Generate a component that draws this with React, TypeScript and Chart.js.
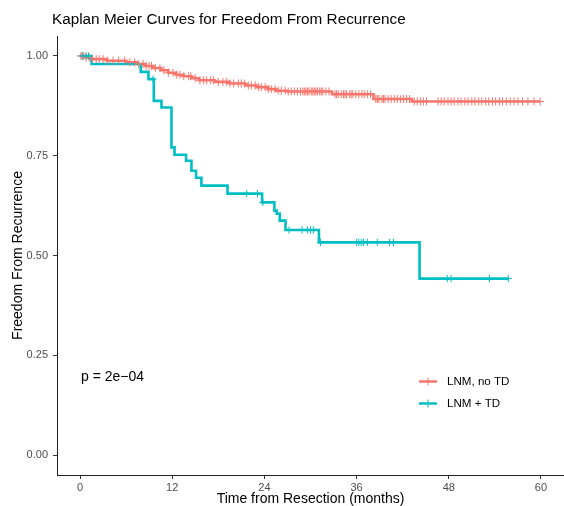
import React, { useEffect, useRef } from "react";
import { Chart, registerables } from "chart.js";

Chart.register(...registerables);

// Kaplan–Meier step tables: [time in months, survival after the event]
const noTdSteps: [number, number][] = [
  [0, 1.0],
  [0.6, 0.996],
  [1.5, 0.992],
  [3.5, 0.988],
  [6.0, 0.984],
  [7.5, 0.98],
  [8.5, 0.975],
  [9.5, 0.97],
  [10.5, 0.964],
  [11.5, 0.958],
  [12.5, 0.953],
  [13.5, 0.949],
  [14.5, 0.944],
  [15.5, 0.939],
  [17.5, 0.935],
  [19.5, 0.931],
  [21.5, 0.926],
  [23.0, 0.922],
  [24.5, 0.917],
  [25.5, 0.913],
  [27.0, 0.911],
  [32.8, 0.904],
  [38.2, 0.892],
  [43.2, 0.886],
];
const noTdEnd = 59.9;

const tdSteps: [number, number][] = [
  [0, 1.0],
  [1.5, 0.98],
  [7.9, 0.96],
  [8.9, 0.942],
  [9.6, 0.8875],
  [10.6, 0.871],
  [11.9, 0.771],
  [12.3, 0.7525],
  [13.8, 0.7375],
  [14.5, 0.7125],
  [15.1, 0.695],
  [15.8, 0.675],
  [19.2, 0.655],
  [23.7, 0.633],
  [25.3, 0.6125],
  [25.6, 0.605],
  [26.0, 0.5875],
  [26.75, 0.564],
  [31.1, 0.533],
  [44.2, 0.442],
];
const tdEnd = 55.75;

// Censoring times (months)
const noTdCensored = [
  0.1, 0.3, 0.5, 0.8, 1.2, 1.6, 2.1, 2.5, 3.0, 3.6, 4.3, 5.0, 5.8, 6.5, 7.1, 7.6,
  8.2, 8.6, 9.0, 9.3, 9.8, 10.4, 10.9, 11.5, 12.1, 12.6,
  13.0, 13.5, 14.1, 14.4, 15.0, 15.6, 16.1, 16.5, 17.0, 17.4, 18.0, 18.6, 19.1, 19.5, 20.0, 20.6,
  21.0, 21.4, 21.9, 22.3, 22.8, 23.2, 23.6, 24.1, 24.5, 24.9, 25.4, 25.8, 26.2, 26.7, 27.1, 27.5, 27.9, 28.3, 28.7,
  29.0, 29.2, 29.4, 29.6, 29.8, 30.1, 30.3, 30.5, 30.7, 30.9, 31.2, 31.4, 31.6, 32.0, 32.4,
  33.2, 33.4, 33.6, 34.0, 34.3, 34.5, 34.7, 35.1, 35.3, 35.5, 35.9, 36.3, 36.7, 37.0, 37.4, 37.8,
  38.5, 38.7, 38.9, 39.3, 39.5, 39.7, 40.1, 40.5, 40.9, 41.3, 41.7, 42.1, 42.5, 42.9,
  43.5, 43.9, 44.3, 44.7, 45.1, 46.6, 47.0, 47.4, 47.9, 48.3, 48.7, 49.2, 49.6, 50.1,
  50.5, 51.0, 51.4, 51.9, 52.3, 52.8, 53.2, 53.7, 54.1, 54.6, 55.0, 55.5, 56.0, 56.5,
  57.0, 57.6, 58.3, 59.1, 59.9,
];

const tdCensored = [
  0.3, 0.8, 1.1, 9.5, 21.7, 23.1, 23.8, 27.2, 28.9, 29.6, 30.0, 30.4, 31.3,
  36.0, 36.3, 36.6, 36.9, 37.4, 38.7, 40.3, 40.8, 47.8, 48.3, 53.3, 55.75,
];

const xTicks = [0, 12, 24, 36, 48, 60];
const yTicks = [0, 0.25, 0.5, 0.75, 1.0];

const groupLabels = ["LNM, no TD", "LNM + TD"];
const groupColors = ["#F8766D", "#00BFC4"];
const titleText = "Kaplan Meier Curves for Freedom From Recurrence";
const xTitle = "Time from Resection (months)";
const yTitle = "Freedom From Recurrence";
const pValueText = "p = 2e\u221204";

const FONT = "'Liberation Sans', Arial, Helvetica, sans-serif";

function survivalAt(steps: [number, number][], t: number): number {
  let s = 1;
  for (const [time, value] of steps) {
    if (time <= t) s = value;
  }
  return s;
}

function curvePoints(steps: [number, number][], end: number) {
  const pts = steps.map(([x, y]) => ({ x, y }));
  pts.push({ x: end, y: steps[steps.length - 1][1] });
  return pts;
}

function censorPoints(steps: [number, number][], times: number[]) {
  return times.map((t) => ({ x: t, y: survivalAt(steps, t) }));
}

const annotations = {
  id: "kmAnnotations",
  afterDraw(chart: Chart) {
    const { ctx, chartArea } = chart;
    ctx.save();
    ctx.fillStyle = "#000";
    ctx.textBaseline = "middle";

    // main title
    ctx.font = `15.3px ${FONT}`;
    ctx.textAlign = "left";
    ctx.fillText(titleText, 52, 20);

    // axis titles
    ctx.font = `14px ${FONT}`;
    ctx.textAlign = "center";
    ctx.fillText(xTitle, (chartArea.left + chartArea.right) / 2, 499);
    ctx.save();
    ctx.translate(18, (chartArea.top + chartArea.bottom) / 2);
    ctx.rotate(-Math.PI / 2);
    ctx.fillText(yTitle, 0, 0);
    ctx.restore();

    // p-value
    ctx.font = `14px ${FONT}`;
    ctx.textAlign = "left";
    ctx.fillText(pValueText, 81, 377);

    // legend
    const legendX = 419;
    const legendY = [381.5, 403.5];
    ctx.font = `11.6px ${FONT}`;
    groupLabels.forEach((label, i) => {
      const y = legendY[i];
      ctx.strokeStyle = groupColors[i];
      ctx.lineWidth = 2.5;
      ctx.beginPath();
      ctx.moveTo(legendX, y);
      ctx.lineTo(legendX + 18, y);
      ctx.stroke();
      ctx.lineWidth = 1;
      ctx.beginPath();
      ctx.moveTo(legendX + 9, y - 4);
      ctx.lineTo(legendX + 9, y + 4);
      ctx.stroke();
      ctx.fillStyle = "#000";
      ctx.fillText(label, legendX + 28, y);
    });
    ctx.restore();
  },
};

export default function App() {
  const canvasRef = useRef<HTMLCanvasElement | null>(null);

  useEffect(() => {
    if (!canvasRef.current) return;
    const chart = new Chart(canvasRef.current, {
      type: "line",
      data: {
        datasets: [
          {
            label: groupLabels[1] + " censored",
            data: censorPoints(tdSteps, tdCensored),
            showLine: false,
            pointStyle: "cross",
            pointRadius: 3.6,
            pointBorderWidth: 1,
            pointBorderColor: groupColors[1],
            pointBackgroundColor: groupColors[1],
            order: 0,
          },
          {
            label: groupLabels[0] + " censored",
            data: censorPoints(noTdSteps, noTdCensored),
            showLine: false,
            pointStyle: "cross",
            pointRadius: 4,
            pointBorderWidth: 1,
            pointBorderColor: groupColors[0],
            pointBackgroundColor: groupColors[0],
            order: 1,
          },
          {
            label: groupLabels[1],
            data: curvePoints(tdSteps, tdEnd),
            stepped: true,
            borderColor: groupColors[1],
            borderWidth: 2.6,
            pointRadius: 0,
            fill: false,
            order: 2,
          },
          {
            label: groupLabels[0],
            data: curvePoints(noTdSteps, noTdEnd),
            stepped: true,
            borderColor: groupColors[0],
            borderWidth: 2.6,
            pointRadius: 0,
            fill: false,
            order: 3,
          },
        ],
      },
      options: {
        animation: false,
        responsive: false,
        devicePixelRatio: 1,
        layout: { autoPadding: false, padding: { top: 36, right: 0, left: 0, bottom: 0 } },
        plugins: {
          legend: { display: false },
          title: { display: false },
          tooltip: { enabled: false },
        },
        scales: {
          x: {
            type: "linear",
            min: -3,
            max: 63,
            afterBuildTicks: (scale: any) => {
              scale.ticks = xTicks.map((v) => ({ value: v }));
            },
            afterFit: (scale: any) => {
              scale.height = 31;
            },
            grid: {
              drawOnChartArea: false,
              drawTicks: true,
              tickLength: 4,
              tickColor: "#333",
              tickWidth: 1,
            },
            border: { display: true, color: "#222", width: 1 },
            ticks: {
              color: "#4D4D4D",
              font: { family: FONT, size: 11 },
              padding: 2,
              maxRotation: 0,
              callback: (v: any) => String(v),
            },
          },
          y: {
            type: "linear",
            min: -0.05,
            max: 1.05,
            afterBuildTicks: (scale: any) => {
              scale.ticks = yTicks.map((v) => ({ value: v }));
            },
            afterFit: (scale: any) => {
              scale.width = 57;
            },
            grid: {
              drawOnChartArea: false,
              drawTicks: true,
              tickLength: 4,
              tickColor: "#333",
              tickWidth: 1,
            },
            border: { display: true, color: "#222", width: 1 },
            ticks: {
              color: "#4D4D4D",
              font: { family: FONT, size: 11 },
              padding: 5,
              callback: (v: any) => Number(v).toFixed(2),
            },
          },
        },
      },
      plugins: [annotations],
    });
    return () => chart.destroy();
  }, []);

  return (
    <div style={{ position: "fixed", left: 0, top: 0, width: 564, height: 506, background: "#fff" }}>
      <canvas ref={canvasRef} width={564} height={506} style={{ width: 564, height: 506, display: "block" }} />
    </div>
  );
}
